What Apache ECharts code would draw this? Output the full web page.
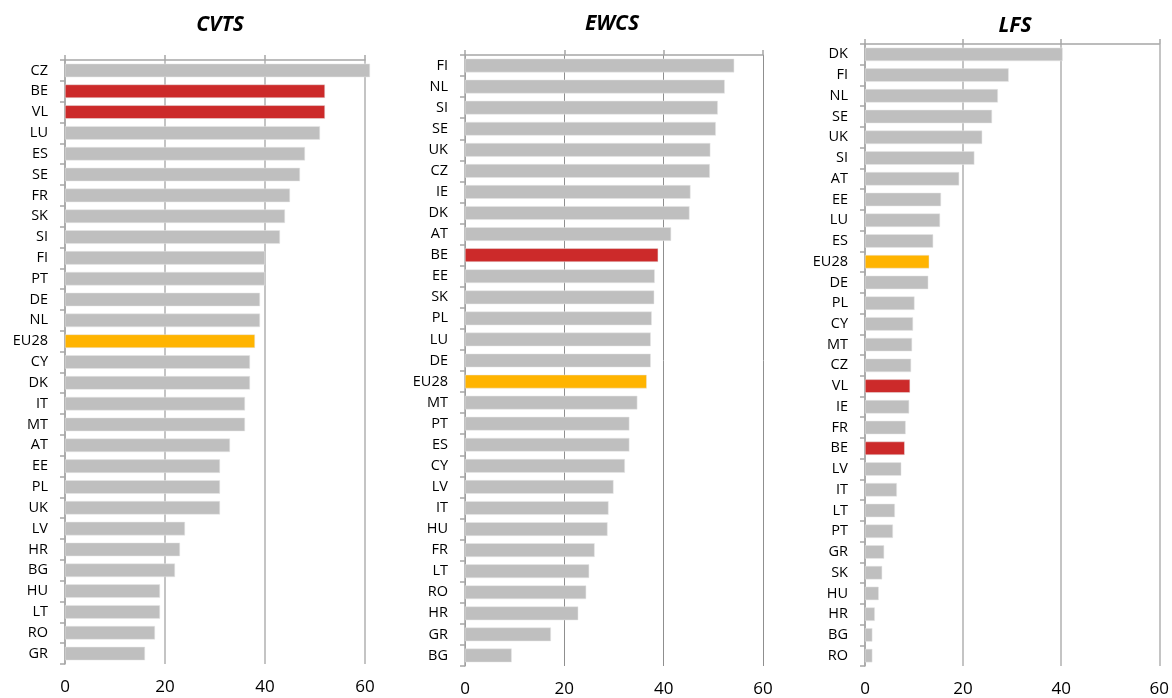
<!DOCTYPE html>
<html>
<head>
<meta charset="utf-8">
<script src="https://cdn.jsdelivr.net/npm/echarts@6/dist/echarts.min.js"></script>
<style>
html,body{margin:0;padding:0;background:#fff;}
#chart{width:1172px;height:698px;}
</style>
</head>
<body>
<div id="chart"></div>
<script>
// ---- Data ----
const titles = ['CVTS', 'EWCS', 'LFS'];
const xTicks = [0, 20, 40, 60];

const cvtsCategories = ['CZ','BE','VL','LU','ES','SE','FR','SK','SI','FI','PT','DE','NL','EU28','CY','DK','IT','MT','AT','EE','PL','UK','LV','HR','BG','HU','LT','RO','GR'];
const cvtsValues     = [61, 52, 52, 51, 48, 47, 45, 44, 43, 40, 40, 39, 39, 38, 37, 37, 36, 36, 33, 31, 31, 31, 24, 23, 22, 19, 19, 18, 16];

const ewcsCategories = ['FI','NL','SI','SE','UK','CZ','IE','DK','AT','BE','EE','SK','PL','LU','DE','EU28','MT','PT','ES','CY','LV','IT','HU','FR','LT','RO','HR','GR','BG'];
const ewcsValues     = [54.2, 52.3, 50.9, 50.5, 49.4, 49.3, 45.4, 45.2, 41.5, 38.9, 38.2, 38.1, 37.6, 37.4, 37.4, 36.6, 34.7, 33.1, 33.1, 32.2, 29.9, 28.9, 28.7, 26.1, 25.0, 24.4, 22.8, 17.3, 9.4];

const lfsCategories = ['DK','FI','NL','SE','UK','SI','AT','EE','LU','ES','EU28','DE','PL','CY','MT','CZ','VL','IE','FR','BE','LV','IT','LT','PT','GR','SK','HU','HR','BG','RO'];
const lfsValues     = [40.3, 29.3, 27.1, 25.9, 23.9, 22.3, 19.2, 15.5, 15.3, 13.9, 13.1, 12.9, 10.1, 9.8, 9.6, 9.4, 9.2, 9.0, 8.3, 8.1, 7.4, 6.5, 6.1, 5.7, 3.9, 3.5, 2.8, 2.0, 1.5, 1.5];

const highlightRed = ['BE', 'VL'];
const highlightGold = ['EU28'];

// ---- Layout / style ----
const panels = [
  { cats: cvtsCategories, vals: cvtsValues, grid: {left: 65, right: 807, top: 60, bottom: 34}, titleX: 215, titleY: 10, split: '#c4c4c4', splitW: 2 },
  { cats: ewcsCategories, vals: ewcsValues, grid: {left: 465, right: 409, top: 55, bottom: 32}, titleX: 607, titleY: 9, split: '#8f8f8f', splitW: 1 },
  { cats: lfsCategories,  vals: lfsValues,  grid: {left: 865, right: 11, top: 44, bottom: 31}, titleX: 1010, titleY: 11, split: '#c4c4c4', splitW: 2 }
];

const FONT = '"Open Sans", "Liberation Sans", sans-serif';
const GRAY = '#BFBFBF', RED = '#CC2A2A', GOLD = '#FFB400';

const option = {
  backgroundColor: '#fff',
  animation: false,
  title: [], grid: [], xAxis: [], yAxis: [], series: []
};

panels.forEach((p, i) => {
  option.title.push({
    text: titles[i], left: p.titleX, top: p.titleY, textAlign: 'center',
    textStyle: { fontFamily: FONT, fontSize: 21, fontWeight: 'bold', fontStyle: 'italic', color: '#000' }
  });
  option.grid.push(Object.assign({ containLabel: false }, p.grid));
  option.xAxis.push({
    type: 'value', gridIndex: i, position: 'top', min: xTicks[0], max: xTicks[xTicks.length - 1], interval: 20,
    axisLine: { show: true, lineStyle: { color: '#a6a6a6', width: 1.5 } },
    axisTick: { show: true, length: 5, lineStyle: { color: '#a6a6a6', width: 1.5 } },
    axisLabel: { show: false },
    splitLine: { show: true, lineStyle: { color: p.split, width: p.splitW } }
  });
  option.xAxis.push({
    type: 'value', gridIndex: i, position: 'bottom', min: xTicks[0], max: xTicks[xTicks.length - 1], interval: 20,
    axisLine: { show: false }, axisTick: { show: false }, splitLine: { show: false },
    axisLabel: { show: true, margin: 15, fontFamily: FONT, fontSize: 17, color: '#000' }
  });
  option.yAxis.push({
    type: 'category', gridIndex: i, inverse: true, data: p.cats,
    axisLine: { show: true, lineStyle: { color: '#a6a6a6', width: 1.5 } },
    axisTick: { show: true, length: 5, lineStyle: { color: '#a6a6a6', width: 1.5 } },
    axisLabel: { margin: 17, fontFamily: FONT, fontSize: 14.5, color: '#000' },
    splitLine: { show: false }
  });
  option.series.push({
    type: 'bar', xAxisIndex: i * 2, yAxisIndex: i, data: p.vals, barWidth: '65%', clip: false,
    itemStyle: {
      color: (params) => {
        const c = p.cats[params.dataIndex];
        if (highlightRed.includes(c)) return RED;
        if (highlightGold.includes(c)) return GOLD;
        return GRAY;
      },
      borderColor: '#e6e6e6', borderWidth: 0.5
    }
  });
});

const chart = echarts.init(document.getElementById('chart'), null, { renderer: 'canvas' });
chart.setOption(option);
</script>
</body>
</html>
